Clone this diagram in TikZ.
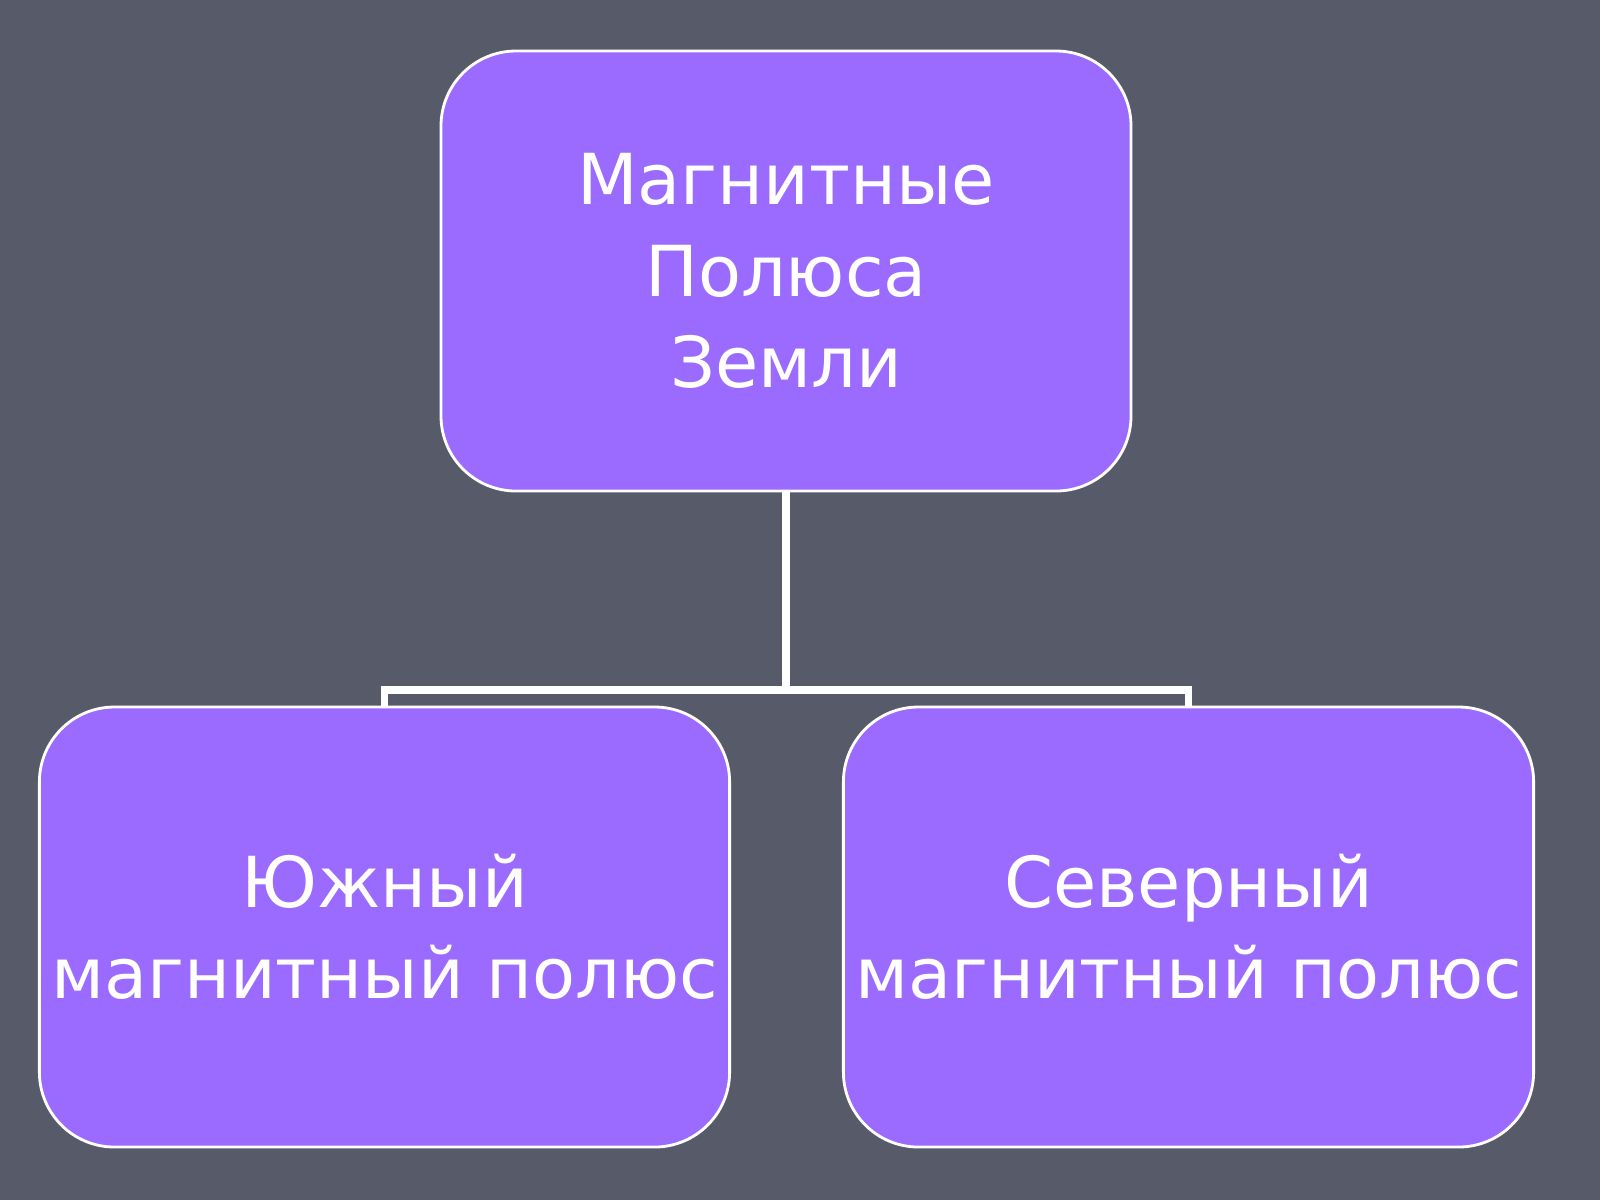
\documentclass[tikz,border=0pt]{standalone}
\usepackage{fontspec}
\setmainfont{DejaVu Sans}
\usetikzlibrary{positioning}
\definecolor{slidebg}{HTML}{575A68}
\definecolor{boxfill}{HTML}{9B6BFF}
\begin{document}
\begin{tikzpicture}[thick,pole box/.style={rectangle,rounded corners=0.75cm,draw=white,fill=boxfill,text=white,minimum width=6.9cm,minimum height=4.4cm,align=center,font=\fontsize{20}{26}\selectfont}]
                \fill[slidebg] (0,0) rectangle (16,-12);
                \node[pole box] at (7.86, -2.71) (top) {Магнитные\\Полюса\\Земли};
                \node[pole box] at (3.845, -9.27) (south) {Южный\\магнитный полюс};
                \node[pole box] at (11.885, -9.27) (north) {Северный\\магнитный полюс};

                \coordinate (hub) at (7.86, -6.9);
                \draw[white, line width=2.2pt]
                    (top.south) -- (hub)
                    (south.north) |- (hub) -| (north.north)
                    ;
            \end{tikzpicture}
\end{document}
